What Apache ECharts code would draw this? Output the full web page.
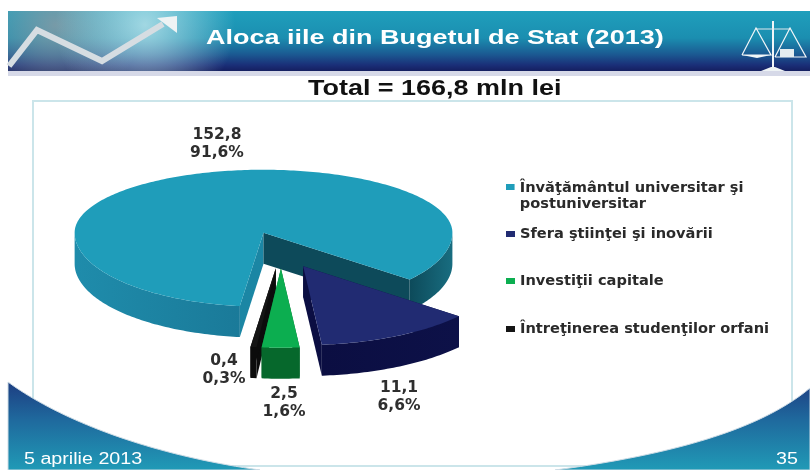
<!DOCTYPE html>
<html>
<head>
<meta charset="utf-8">
<style>html,body{margin:0;padding:0;background:#fff}#c{width:810px;height:470px}</style>
<script src="https://cdn.jsdelivr.net/npm/echarts@6/dist/echarts.min.js"></script>
</head>
<body>
<div id="c"></div>
<script>
// ---- data ----
const categories = ['Învăţământul universitar şi\npostuniversitar', 'Sfera ştiinţei şi inovării', 'Investiţii capitale', 'Întreţinerea studenţilor orfani'];
const values = [152.8, 11.1, 2.5, 0.4];
const valueLabels = ['152,8', '11,1', '2,5', '0,4'];
const percentLabels = ['91,6%', '6,6%', '1,6%', '0,3%'];
const titleText = 'Aloca iile din Bugetul de Stat (2013)';
const totalText = 'Total = 166,8 mln lei';
const footerDate = '5 aprilie 2013';
const footerPage = '35';

// ---- styling and projection of the tilted pie ----
const colors = ['#1f9dba', '#212b72', '#0cae50', '#151515'];
const rimColors = [['#1f8cab', '#1a7a99'], ['#0b0e42', '#0d1148'], ['#06682c', '#06682c'], ['#0c0c0c', '#0c0c0c']];
const rimRightColors = [['#0d4a5a', '#186d80'], null, null, null];
const cutColors = [['#1b86a4', '#0d4a5a'], ['#0d1148', '#0b0e42'], ['#06682c', '#06682c'], ['#0c0c0c', '#0c0c0c']];
const order = [2, 5, 4, 3];
const labelCentres = [[217, 144], [399, 397], [284, 403], [224, 370]];
const pie = {cx: 281, cy: 248.5, rx: 189, ryTop: 63, ryBottom: 74, depth: 31, explode: 0.25, explodeY: 0.27, warp: 2, startT: 3.6, persp: 0.002, persY: 233};

const total = values.reduce((a, b) => a + b, 0);
const rad = d => d * Math.PI / 180;
function warpAngle(t) { // projective warp around the front of the disc; t degrees from front
  const n = Math.round(t / 360);
  const u = (t - 360 * n) / 2;
  return 2 * Math.atan(pie.warp * Math.tan(rad(u))) * 180 / Math.PI + 360 * n;
}
function rim(o, phi, s, dy) {
  const a = rad(phi + 90);
  const sin = Math.sin(a);
  return [o[0] + pie.rx * s * Math.cos(a), o[1] + (sin > 0 ? pie.ryBottom : pie.ryTop) * s * sin + (dy || 0)];
}
function sliceGeom(i) {
  let t = pie.startT;
  for (let k = 0; k < i; k++) t += values[k] / total * 360;
  const p0 = warpAngle(t), p1 = warpAngle(t + values[i] / total * 360);
  const mid = rad((p0 + p1) / 2 + 90);
  const sin = Math.sin(mid);
  const o = [pie.cx + pie.explode * pie.rx * Math.cos(mid),
             pie.cy + pie.explodeY * (sin > 0 ? pie.ryBottom : pie.ryTop) * sin];
  return {p0, p1, o, s: 1 + (o[1] - pie.persY) * pie.persp};
}
function hGrad(x0, x1, c) {
  return new echarts.graphic.LinearGradient(x0, 0, x1, 0, [{offset: 0, color: c[0]}, {offset: 1, color: c[1]}], true);
}
function wall(o, s, from, to, fill, z2) {
  const up = [], down = [];
  for (let p = from; ; p += 1) {
    const q = Math.min(p, to);
    up.push(rim(o, q, s)); down.unshift(rim(o, q, s, pie.depth));
    if (q >= to) break;
  }
  return {type: 'polygon', z2, shape: {points: up.concat(down)}, style: {fill}};
}
function renderSlice(i) {
  return function () {
    const g = sliceGeom(i), o = g.o, s = g.s, ch = [];
    const e0 = rim(o, g.p0, s), e1 = rim(o, g.p1, s);
    const cut = (e, fill) => ({type: 'polygon', z2: 1, shape: {points: [o, e, [e[0], e[1] + pie.depth], [o[0], o[1] + pie.depth]]}, style: {fill}});
    ch.push(cut(e0, cutColors[i][0]), cut(e1, cutColors[i][1]));
    // visible outer walls: screen-front half of the rim
    const ranges = [[-90, 90], [270, 450]];
    ranges.forEach(r => {
      const a = Math.max(g.p0, r[0]), b = Math.min(g.p1, r[1]);
      if (b > a) {
        const right = (a + b) / 2 > 180 || (a + b) / 2 < 0;
        const pal = right && rimRightColors[i] ? rimRightColors[i] : rimColors[i];
        const xa = rim(o, a, s)[0], xb = rim(o, b, s)[0];
        ch.push(wall(o, s, a, b, hGrad(Math.min(xa, xb), Math.max(xa, xb), pal), 2));
      }
    });
    const top = [o];
    for (let p = g.p0; ; p += 1) {
      const q = Math.min(p, g.p1);
      top.push(rim(o, q, s));
      if (q >= g.p1) break;
    }
    ch.push({type: 'polygon', z2: 3, shape: {points: top}, style: {fill: colors[i]}});
    return {type: 'group', children: ch};
  };
}

const chart = echarts.init(document.getElementById('c'), null, {renderer: 'canvas'});
const FF = '"DejaVu Sans", sans-serif';
const AF = '"Liberation Sans", Arial, sans-serif';

const series = categories.map((name, i) => ({
  type: 'custom', name, coordinateSystem: 'none', z: order[i], silent: true,
  itemStyle: {color: colors[i]}, data: [values[i]], renderItem: renderSlice(i), animation: false
}));
const labelGraphics = valueLabels.map((v, i) => ({
  type: 'text', z: 20, x: labelCentres[i][0], y: labelCentres[i][1],
  style: {text: v + '\n' + percentLabels[i], font: 'bold 15.5px ' + FF, fill: '#2e2e2e', align: 'center', verticalAlign: 'middle', lineHeight: 18}
}));

const legendTops = [180, 226, 273, 321];
const legends = categories.map((name, i) => ({
  data: [name], left: 506, top: legendTops[i], orient: 'vertical', selectedMode: false, padding: 0,
  itemWidth: 9, itemHeight: i === 0 ? 24 : 6, itemGap: 0,
  icon: i === 0 ? 'path://M0,2H10V9H0Z M0,30H0Z' : 'rect',
  textStyle: {fontFamily: 'DejaVu Sans', fontWeight: 'bold', fontSize: 14.6, color: '#2a2a2a', lineHeight: 16}
}));

function curve(p0, c0, c1, p1, corner) { // sampled cubic for the footer arcs
  const pts = [];
  for (let k = 0; k <= 40; k++) {
    const t = k / 40, m = 1 - t;
    pts.push([0, 1].map(j => m*m*m*p0[j] + 3*m*m*t*c0[j] + 3*m*t*t*c1[j] + t*t*t*p1[j]));
  }
  pts.push(corner);
  return pts;
}
const footFill = () => new echarts.graphic.LinearGradient(0, 380, 0, 470, [{offset: 0, color: '#1d3b80'}, {offset: .45, color: '#1f6a9e'}, {offset: 1, color: '#209ab6'}], true);
const glow = (x, y, r, c) => new echarts.graphic.RadialGradient(x, y, r, [{offset: 0, color: c}, {offset: 1, color: c.replace(/[\d.]+\)$/, '0)')}], true);

const deco = [
  // banner
  {type: 'rect', z: 0, shape: {x: 8, y: 11, width: 802, height: 60},
   style: {fill: new echarts.graphic.LinearGradient(0, 0, 0, 1, [
     {offset: 0, color: '#1f9fbc'}, {offset: .45, color: '#1b8eb0'}, {offset: .72, color: '#1b5a92'}, {offset: .9, color: '#1a2f78'}, {offset: 1, color: '#151f60'}])}},
  {type: 'rect', z: 0, shape: {x: 8, y: 11, width: 230, height: 60}, style: {fill: glow(55, 25, 85, 'rgba(135,155,165,.85)')}},
  {type: 'rect', z: 0, shape: {x: 8, y: 11, width: 230, height: 60}, style: {fill: glow(145, 25, 90, 'rgba(195,232,238,.8)')}},
  {type: 'polyline', z: 1, shape: {points: [[9, 66], [37, 30], [102, 61], [163, 24]]}, style: {stroke: '#d6dde2', lineWidth: 6, fill: 'none'}},
  {type: 'polygon', z: 1, shape: {points: [[157, 18], [177, 16], [177, 33]]}, style: {fill: '#eef3f4'}},
  {type: 'rect', z: 0, shape: {x: 8, y: 71, width: 802, height: 5}, style: {fill: '#d6d9e8'}},
  // scales
  {type: 'polyline', z: 1, shape: {points: [[773, 21], [773, 71]]}, style: {stroke: '#f2f6f8', lineWidth: 2, fill: 'none'}},
  {type: 'polyline', z: 1, shape: {points: [[756, 29], [790, 29]]}, style: {stroke: '#dfe8ec', lineWidth: 1, fill: 'none'}},
  {type: 'polyline', z: 1, shape: {points: [[742, 55], [756, 28], [771, 55], [742, 55]]}, style: {stroke: '#f2f6f8', lineWidth: 1.2, fill: 'none'}},
  {type: 'polyline', z: 1, shape: {points: [[775, 57], [790, 28], [806, 57], [775, 57]]}, style: {stroke: '#f2f6f8', lineWidth: 1.2, fill: 'none'}},
  {type: 'polygon', z: 1, shape: {points: [[742, 55], [771, 55], [757, 58]]}, style: {fill: '#f2f6f8'}},
  {type: 'rect', z: 1, shape: {x: 780, y: 49, width: 14, height: 8}, style: {fill: '#e4ecef'}},
  {type: 'polygon', z: 1, shape: {points: [[761, 71], [785, 71], [775, 67], [771, 67]]}, style: {fill: '#eef3f5'}},
  // panel
  {type: 'rect', z: 0, shape: {x: 33, y: 101, width: 759, height: 365}, style: {fill: '#fff', stroke: '#cbe5ea', lineWidth: 2}},
  // footer
  {type: 'polygon', z: 1, shape: {points: curve([8, 382], [60, 420], [150, 455], [260, 470], [8, 470])},
   style: {fill: footFill(), stroke: '#cfdde6', lineWidth: 1}},
  {type: 'polygon', z: 1, shape: {points: curve([810, 388], [760, 430], [670, 455], [555, 470], [810, 470])},
   style: {fill: footFill(), stroke: '#cfdde6', lineWidth: 1}},
  {type: 'text', z: 2, x: 24, y: 460, scaleX: 1.23, style: {text: footerDate, font: '16px ' + AF, fill: '#fff', verticalAlign: 'middle'}},
  {type: 'text', z: 2, x: 798, y: 460, scaleX: 1.23, style: {text: footerPage, font: '16px ' + AF, fill: '#fff', align: 'right', verticalAlign: 'middle'}},
  // headings (the slide stretches its type horizontally)
  {type: 'text', z: 3, x: 206, y: 38, scaleX: 1.286, style: {text: titleText, font: 'bold 21px ' + AF, fill: '#fff', verticalAlign: 'middle'}},
  {type: 'text', z: 3, x: 308, y: 89, scaleX: 1.225, style: {text: totalText, font: 'bold 22px ' + AF, fill: '#111', verticalAlign: 'middle'}}
];

chart.setOption({
  animation: false,
  backgroundColor: '#fff',
  legend: legends,
  graphic: {elements: deco.concat(labelGraphics)},
  series
});
</script>
</body>
</html>
